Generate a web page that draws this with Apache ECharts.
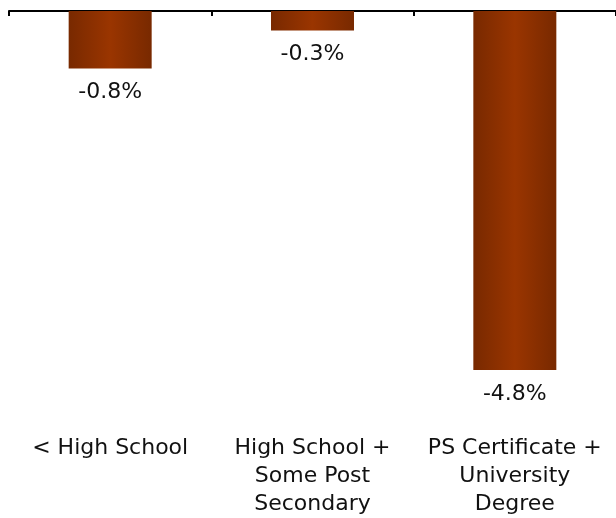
<!DOCTYPE html>
<html>
<head>
<meta charset="utf-8">
<script src="https://cdn.jsdelivr.net/npm/echarts@6/dist/echarts.min.js"></script>
<style>
html,body{margin:0;padding:0;background:#fff;}
#chart{width:616px;height:518px;}
</style>
</head>
<body>
<div id="chart"></div>
<script>
const categories = ['< High School', 'High School +\nSome Post\nSecondary', 'PS Certificate +\nUniversity\nDegree'];
const values = [-0.77, -0.26, -4.8];
const valueMin = -5;
const valueMax = 0;

const chart = echarts.init(document.getElementById('chart'), null, {renderer: 'canvas'});
const font = '"DejaVu Sans", Verdana, sans-serif';
const barColor = new echarts.graphic.LinearGradient(0, 0, 1, 0, [
  {offset: 0, color: '#782900'},
  {offset: 0.5, color: '#9a3500'},
  {offset: 1, color: '#782900'}
]);

chart.setOption({
  animation: false,
  grid: {left: 9, right: -2, top: 11, height: 378.5, containLabel: false},
  xAxis: [
    {
      type: 'category', data: categories, position: 'top',
      axisLine: {show: true, onZero: false, lineStyle: {color: '#000', width: 2}},
      axisTick: {show: true, inside: true, length: 5, lineStyle: {color: '#000', width: 2}},
      axisLabel: {show: false}
    },
    {
      type: 'category', data: categories, position: 'bottom',
      axisLine: {show: false}, axisTick: {show: false},
      axisLabel: {show: true, margin: 49, color: '#111', fontFamily: font, fontSize: 22, lineHeight: 28, align: 'center', interval: 0}
    }
  ],
  yAxis: {type: 'value', min: valueMin, max: valueMax, show: false},
  series: [{
    type: 'bar', data: values, xAxisIndex: 0, barWidth: 83,
    itemStyle: {color: barColor},
    label: {
      show: true, position: 'bottom', distance: 13,
      color: '#111', fontFamily: font, fontSize: 22,
      formatter: p => p.value.toFixed(1) + '%'
    }
  }]
});
</script>
</body>
</html>
